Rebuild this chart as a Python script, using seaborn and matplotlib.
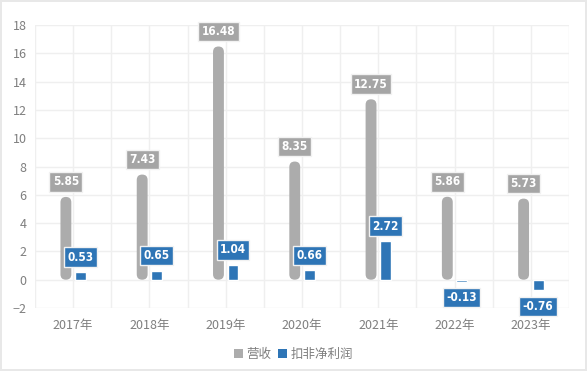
import matplotlib
matplotlib.use("Agg")
import matplotlib.pyplot as plt
from matplotlib.patches import FancyBboxPatch, Patch
import seaborn as sns
import pandas as pd

# 数据
years = ["2017年", "2018年", "2019年", "2020年", "2021年", "2022年", "2023年"]
revenue = [5.85, 7.43, 16.48, 8.35, 12.75, 5.86, 5.73]
net_profit = [0.53, 0.65, 1.04, 0.66, 2.72, -0.13, -0.76]
series = ["营收", "扣非净利润"]
colors = ["#acacac", "#2e75b6"]

df = pd.DataFrame({
    "年份": years * 2,
    "指标": [series[0]] * len(years) + [series[1]] * len(years),
    "值": revenue + net_profit,
})

sns.set_style("white")
plt.rcParams["font.family"] = ["Noto Sans CJK SC", "DejaVu Sans"]

fig = plt.figure(figsize=(5.87, 3.71), dpi=100)
ax = fig.add_axes([35 / 587, 1 - 308 / 371, 534 / 587, 283 / 371])

sns.barplot(data=df, x="年份", y="值", hue="指标", palette=colors,
            width=0.38, gap=0.25, ax=ax, legend=False, saturation=1)

ax.set_xlim(-0.5, len(years) - 0.5)
ax.set_ylim(-2, 18)
ax.set_yticks(range(-2, 19, 2))
ax.set_xticks(range(len(years)))
ax.set_xticks([i - 0.5 for i in range(len(years) + 1)], minor=True)
ax.grid(True, which="both", color="#efefef", lw=1)
ax.set_axisbelow(True)
for s in ax.spines.values():
    s.set_visible(False)
ax.tick_params(which="both", length=0)
ax.tick_params(axis="x", colors="#7f7f7f", labelsize=9, pad=8)
ax.tick_params(axis="y", colors="#7f7f7f", labelsize=9, pad=6)
ax.set_xlabel("")
ax.set_ylabel("")

# 把营收柱子换成圆头
fig.canvas.draw()
p0 = ax.transData.transform((0, 0))
p1 = ax.transData.transform((1, 1))
aspect = (1 / (p1[1] - p0[1])) / (1 / (p1[0] - p0[0]))
for bar in list(ax.containers[0]):
    x, y, w, h = bar.get_x(), bar.get_y(), bar.get_width(), bar.get_height()
    bar.set_visible(False)
    rb = FancyBboxPatch((x, y), w, h,
                        boxstyle=f"round,pad=0,rounding_size={w / 2}",
                        mutation_aspect=aspect, fc=colors[0], ec="none", zorder=2)
    ax.add_patch(rb)

for k, cont in enumerate(ax.containers):
    vals = revenue if k == 0 else net_profit
    for bar, v in zip(cont, vals):
        cx = bar.get_x() + bar.get_width() / 2
        off = 15 if v >= 0 else -16
        ax.annotate(f"{v:.2f}", (cx, v), xytext=(0, off), textcoords="offset pixels",
                    ha="center", va="center", color="white", fontsize=8.5,
                    fontweight="bold", family="DejaVu Sans", fontstretch="condensed",
                    zorder=5,
                    bbox=dict(boxstyle="square,pad=0.28", fc=colors[k] if k == 1 else "#a5a5a5",
                              ec="#f2f2f2", lw=1))

handles = [Patch(fc=c, ec="none", label=s) for c, s in zip(colors, series)]
fig.legend(handles=handles, loc="center", bbox_to_anchor=(0.5, 0.045), ncol=2,
           frameon=False, fontsize=9, labelcolor="#7f7f7f",
           handlelength=0.7, handleheight=0.7, handletextpad=0.3, columnspacing=0.5)

fig.patch.set_edgecolor("#e8e8e8")
fig.patch.set_linewidth(1.5)

fig.savefig("out.png", dpi=100)
